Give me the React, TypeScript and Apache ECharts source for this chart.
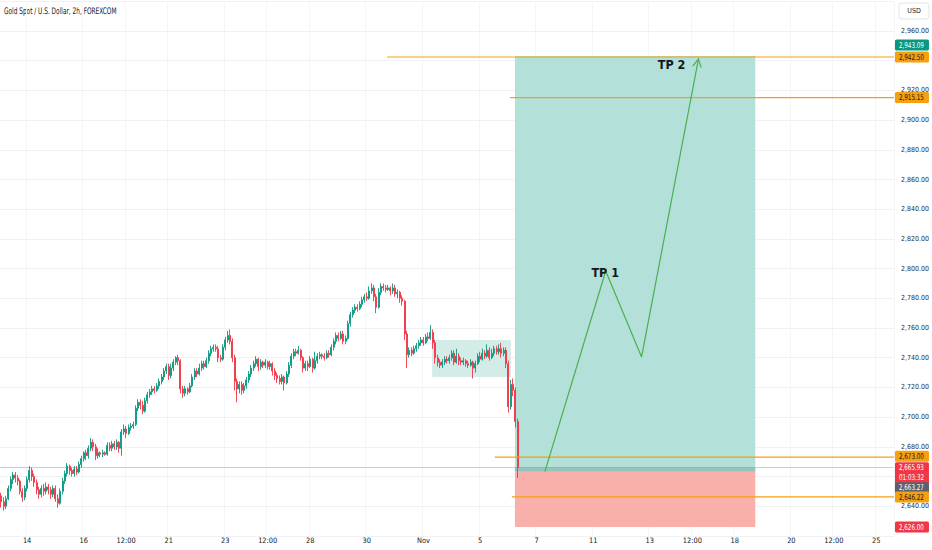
import React, { useEffect, useRef } from 'react';
import * as echarts from 'echarts';

const FONT = "'Liberation Sans Narrow', 'DejaVu Sans Condensed', 'Liberation Sans', sans-serif";

// trading days on the time scale, 2h bars (the first day starts at 02:00)
const TRADING_DAYS = [
  'Oct 11',
  'Oct 14', 'Oct 15', 'Oct 16', 'Oct 17', 'Oct 18',
  'Oct 21', 'Oct 22', 'Oct 23', 'Oct 24', 'Oct 25',
  'Oct 28', 'Oct 29', 'Oct 30', 'Oct 31', 'Nov 1',
  'Nov 4', 'Nov 5', 'Nov 6', 'Nov 7', 'Nov 8',
  'Nov 11', 'Nov 12', 'Nov 13', 'Nov 14', 'Nov 15',
  'Nov 18', 'Nov 19', 'Nov 20', 'Nov 21', 'Nov 22',
  'Nov 25', 'Nov 26',
];
const HOURS = ['00:00', '02:00', '04:00', '06:00', '08:00', '10:00', '12:00', '14:00', '16:00', '18:00', '20:00', '22:00'];
const BAR_COUNT = 379;

const TIME_LABELS: [string, string][] = [
  ['Oct 14 00:00', '14'], ['Oct 16 00:00', '16'], ['Oct 17 12:00', '12:00'], ['Oct 21 00:00', '21'],
  ['Oct 23 00:00', '23'], ['Oct 24 12:00', '12:00'], ['Oct 28 00:00', '28'], ['Oct 30 00:00', '30'],
  ['Nov 1 00:00', 'Nov'], ['Nov 5 00:00', '5'], ['Nov 7 00:00', '7'], ['Nov 11 00:00', '11'],
  ['Nov 13 00:00', '13'], ['Nov 14 12:00', '12:00'], ['Nov 18 00:00', '18'], ['Nov 20 00:00', '20'],
  ['Nov 21 12:00', '12:00'], ['Nov 25 00:00', '25'],
];

// [open, close, low, high]
const CANDLES = [
  [2647, 2643, 2639, 2649], [2643, 2640, 2637, 2646], [2640, 2645, 2638, 2647], [2645, 2652, 2644, 2654],
  [2652, 2658, 2650, 2660], [2658, 2661, 2655, 2663], [2661, 2659, 2656, 2663], [2659, 2657, 2654, 2661],
  [2657, 2650, 2648, 2658], [2650, 2646, 2643, 2652], [2646, 2652, 2644, 2654], [2652, 2658, 2650, 2660],
  [2658, 2664, 2656, 2667], [2664, 2660, 2657, 2666], [2660, 2656, 2653, 2662], [2656, 2651, 2648, 2658],
  [2651, 2648, 2645, 2653], [2648, 2652, 2646, 2654], [2652, 2650, 2647, 2655], [2650, 2653, 2648, 2656],
  [2653, 2651, 2648, 2655], [2651, 2648, 2645, 2653], [2648, 2652, 2646, 2654], [2652, 2645, 2643, 2654],
  [2645, 2642, 2639, 2648], [2642, 2650, 2641, 2652], [2650, 2657, 2648, 2659], [2657, 2662, 2655, 2664],
  [2662, 2667, 2660, 2669], [2667, 2664, 2661, 2668], [2664, 2662, 2660, 2666], [2662, 2665, 2660, 2667],
  [2665, 2663, 2661, 2667], [2663, 2668, 2662, 2670], [2668, 2672, 2666, 2674], [2672, 2676, 2670, 2677],
  [2676, 2674, 2671, 2678], [2674, 2679, 2672, 2681], [2679, 2683, 2677, 2686], [2683, 2680, 2677, 2685],
  [2680, 2674, 2671, 2682], [2674, 2676, 2672, 2679], [2676, 2675, 2673, 2677], [2675, 2676, 2673, 2678],
  [2676, 2675, 2674, 2677], [2675, 2681, 2674, 2683], [2681, 2679, 2677, 2683], [2679, 2682, 2677, 2684],
  [2682, 2680, 2678, 2684], [2680, 2683, 2678, 2685], [2683, 2679, 2676, 2684], [2679, 2690, 2674, 2692],
  [2690, 2692, 2688, 2695], [2692, 2689, 2686, 2694], [2689, 2693, 2688, 2695], [2693, 2694, 2691, 2696],
  [2694, 2695, 2692, 2697], [2695, 2706, 2694, 2708], [2706, 2710, 2704, 2712], [2710, 2708, 2705, 2712],
  [2708, 2704, 2702, 2711], [2704, 2711, 2703, 2713], [2711, 2715, 2709, 2717], [2715, 2717, 2713, 2719],
  [2717, 2719, 2715, 2721], [2719, 2718, 2716, 2721], [2718, 2721, 2717, 2723], [2721, 2724, 2719, 2726],
  [2724, 2727, 2722, 2729], [2727, 2731, 2725, 2733], [2731, 2734, 2729, 2736], [2734, 2728, 2725, 2736],
  [2728, 2733, 2726, 2736], [2733, 2737, 2731, 2739], [2737, 2740, 2735, 2741], [2740, 2738, 2735, 2742],
  [2738, 2719, 2716, 2739], [2719, 2716, 2713, 2721], [2716, 2719, 2714, 2721], [2719, 2717, 2715, 2720],
  [2717, 2721, 2716, 2723], [2721, 2727, 2720, 2729], [2727, 2731, 2725, 2733], [2731, 2729, 2727, 2733],
  [2729, 2733, 2728, 2736], [2733, 2736, 2731, 2738], [2736, 2734, 2732, 2738], [2734, 2738, 2733, 2740],
  [2738, 2743, 2736, 2745], [2743, 2746, 2741, 2748], [2746, 2747, 2744, 2749], [2747, 2746, 2744, 2749],
  [2746, 2740, 2737, 2748], [2740, 2739, 2737, 2742], [2739, 2747, 2738, 2749], [2747, 2752, 2745, 2754],
  [2752, 2755, 2750, 2758], [2755, 2751, 2749, 2759], [2751, 2740, 2737, 2753], [2740, 2724, 2718, 2742],
  [2724, 2719, 2710, 2726], [2719, 2722, 2716, 2724], [2722, 2718, 2715, 2724], [2718, 2721, 2716, 2723],
  [2721, 2725, 2719, 2727], [2725, 2729, 2723, 2731], [2729, 2733, 2727, 2735], [2733, 2736, 2731, 2738],
  [2736, 2739, 2734, 2741], [2739, 2734, 2731, 2740], [2734, 2737, 2732, 2739], [2737, 2735, 2733, 2738],
  [2735, 2737, 2733, 2739], [2737, 2734, 2732, 2738], [2734, 2736, 2732, 2738], [2736, 2731, 2728, 2737],
  [2731, 2728, 2725, 2733], [2728, 2726, 2723, 2730], [2726, 2724, 2722, 2728], [2724, 2727, 2722, 2729],
  [2727, 2723, 2718, 2728], [2723, 2729, 2722, 2731], [2729, 2735, 2727, 2737], [2735, 2741, 2733, 2743],
  [2741, 2744, 2739, 2746], [2744, 2743, 2741, 2746], [2743, 2745, 2742, 2748], [2745, 2740, 2738, 2746],
  [2740, 2733, 2730, 2741], [2733, 2736, 2731, 2738], [2736, 2734, 2731, 2738], [2734, 2739, 2733, 2741],
  [2739, 2733, 2730, 2740], [2733, 2738, 2732, 2744], [2738, 2741, 2736, 2743], [2741, 2742, 2739, 2744],
  [2742, 2741, 2739, 2743], [2741, 2740, 2738, 2743], [2740, 2743, 2739, 2745], [2743, 2742, 2740, 2745],
  [2742, 2747, 2741, 2749], [2747, 2751, 2745, 2753], [2751, 2755, 2749, 2757], [2755, 2753, 2751, 2757],
  [2753, 2756, 2752, 2758], [2756, 2751, 2749, 2758], [2751, 2753, 2749, 2755], [2753, 2763, 2752, 2765],
  [2763, 2769, 2761, 2771], [2769, 2772, 2767, 2774], [2772, 2774, 2770, 2776], [2774, 2773, 2771, 2776],
  [2773, 2776, 2772, 2778], [2776, 2779, 2774, 2781], [2779, 2781, 2777, 2783], [2781, 2780, 2778, 2784],
  [2780, 2785, 2779, 2788], [2785, 2787, 2783, 2790], [2787, 2781, 2778, 2789], [2781, 2774, 2770, 2783],
  [2774, 2784, 2773, 2787], [2784, 2788, 2782, 2790], [2788, 2787, 2785, 2790], [2787, 2786, 2784, 2789],
  [2786, 2787, 2785, 2789], [2787, 2785, 2782, 2788], [2785, 2787, 2783, 2790], [2787, 2783, 2781, 2789],
  [2783, 2784, 2780, 2786], [2784, 2780, 2777, 2785], [2780, 2778, 2775, 2782], [2778, 2756, 2752, 2779],
  [2756, 2742, 2733, 2758], [2742, 2745, 2740, 2747], [2745, 2743, 2741, 2747], [2743, 2746, 2742, 2748],
  [2746, 2748, 2744, 2750], [2748, 2750, 2746, 2752], [2750, 2752, 2748, 2754], [2752, 2750, 2748, 2754],
  [2750, 2754, 2749, 2756], [2754, 2753, 2751, 2757], [2753, 2757, 2752, 2762], [2757, 2750, 2746, 2759],
  [2750, 2740, 2736, 2752], [2740, 2737, 2734, 2742], [2737, 2735, 2733, 2739], [2735, 2737, 2733, 2739],
  [2737, 2739, 2735, 2741], [2739, 2738, 2736, 2741], [2738, 2740, 2736, 2742], [2740, 2743, 2738, 2745],
  [2743, 2737, 2735, 2745], [2737, 2741, 2736, 2746], [2741, 2738, 2735, 2743], [2738, 2737, 2735, 2740],
  [2737, 2738, 2735, 2740], [2738, 2736, 2734, 2739], [2736, 2735, 2733, 2738], [2735, 2737, 2734, 2739],
  [2737, 2733, 2726, 2738], [2733, 2736, 2730, 2738], [2736, 2741, 2735, 2743], [2741, 2739, 2737, 2744],
  [2739, 2743, 2738, 2746], [2743, 2741, 2739, 2745], [2741, 2745, 2740, 2749], [2745, 2740, 2738, 2747],
  [2740, 2743, 2739, 2746], [2743, 2746, 2741, 2748], [2746, 2744, 2742, 2748], [2744, 2746, 2742, 2749],
  [2746, 2743, 2740, 2750], [2743, 2745, 2741, 2747], [2745, 2736, 2733, 2747], [2736, 2707, 2703, 2738],
  [2707, 2722, 2705, 2725], [2722, 2718, 2714, 2726], [2718, 2697, 2693, 2720], [2697, 2665.93, 2659, 2699],
];

const LAST_PRICE = 2665.93;
const COUNTDOWN = '01:03:32';

// horizontal levels drawn from a bar to the right edge
const LEVELS = [
  { fromBar: 163.6, price: 2942.5 },
  { fromBar: 215.7, price: 2915.15 },
  { fromBar: 209.3, price: 2673.0 },
  { fromBar: 216.5, price: 2646.22 },
];

const POSITION = { fromBar: 217.8, toBar: 319.7, entry: 2663.27, target: 2943.09, stop: 2626.0 };
const RANGE_BOX = { fromBar: 182.7, toBar: 216.1, low: 2727, high: 2751.9 };

// projected path [bar, price]
const ARROW_PATH = [[230.5, 2663.3], [256.3, 2798.4], [271.5, 2740.5], [295.6, 2941.1]];
const NOTES = [
  { bar: 256.1, price: 2797.7, text: 'TP 1' },
  { bar: 284.2, price: 2937.4, text: 'TP 2' },
];

// price scale tags, top to bottom
const TAG_VALUES = [2943.09, 2942.5, 2915.15, 2673.0, 2665.93, 2663.27, 2646.22, 2626.0];
// tick labels hidden on the price scale (edges, or under a tag)
const HIDDEN_TICKS = [2620, 2660, 2940, 2980];

const INK = '#131722';
const UP = '#089981';
const DOWN = '#f23645';
const ORANGE = '#f5a00f';
const ARROW_GREEN = '#4caf50';

const fmtPrice = (v: number) =>
  v.toLocaleString('en-US', { minimumFractionDigits: 2, maximumFractionDigits: 2 });

const App: React.FC = () => {
  const chartRef = useRef<HTMLDivElement>(null);

  useEffect(() => {
    document.body.style.margin = '0';
    if (!chartRef.current) return;
    const chart = echarts.init(chartRef.current, undefined, { renderer: 'svg' });

    const categories: string[] = [];
    TRADING_DAYS.forEach((d, k) =>
      HOURS.forEach((h, j) => {
        if (k === 0 && j === 0) return;
        categories.push(d + ' ' + h);
      })
    );
    const cats = categories.slice(0, BAR_COUNT);
    const labelMap = new Map<number, string>();
    TIME_LABELS.forEach(([t, s]) => labelMap.set(cats.indexOf(t), s));

    const zoneRows = [
      [POSITION.fromBar, POSITION.toBar, POSITION.entry, POSITION.target],
      [POSITION.fromBar, POSITION.toBar, POSITION.entry, LAST_PRICE],
      [POSITION.fromBar, POSITION.toBar, POSITION.stop, POSITION.entry],
      [RANGE_BOX.fromBar, RANGE_BOX.toBar, RANGE_BOX.low, RANGE_BOX.high],
    ];
    const zoneColors = ['#b3e0d9', '#97c3bf', '#f9b0ab', '#d4ece8'];

    const tagLook = [
      { bg: UP, fg: '#ffffff', dy: -11 },
      { bg: ORANGE, fg: INK, dy: 0 },
      { bg: ORANGE, fg: INK, dy: 0 },
      { bg: ORANGE, fg: INK, dy: -1 },
      { bg: DOWN, fg: '#ffffff', dy: 0, two: true },
      { bg: '#5d606b', fg: '#ffffff', dy: 16 },
      { bg: ORANGE, fg: INK, dy: 0 },
      { bg: DOWN, fg: '#ffffff', dy: 0 },
    ];

    const n = ARROW_PATH.length;
    const narrow = (text: string, fill: string, x: number, y: number, size: number) => ({
      type: 'text',
      x,
      y,
      scaleX: 0.78,
      style: { text, fill, fontSize: size, fontFamily: FONT, verticalAlign: 'middle' },
    });

    const option = {
      animation: false,
      backgroundColor: '#ffffff',
      graphic: [
        {
          type: 'text',
          x: 4,
          y: 11,
          scaleX: 0.72,
          style: {
            text: 'Gold Spot / U.S. Dollar, 2h, FOREXCOM',
            fill: INK,
            fontSize: 9,
            fontFamily: FONT,
            verticalAlign: 'middle',
          },
        },
        {
          type: 'rect',
          shape: { x: 899, y: 3, width: 30, height: 16, r: 3 },
          style: { fill: '#ffffff', stroke: '#e0e3eb', lineWidth: 1 },
        },
        {
          type: 'text',
          x: 914,
          y: 11,
          style: { text: 'USD', fill: INK, fontSize: 7, fontFamily: FONT, align: 'center', verticalAlign: 'middle' },
        },
      ],
      grid: { left: 0, right: 36, top: 1.3, bottom: 14.1 },
      xAxis: [
        {
          type: 'category',
          data: cats,
          axisLine: { show: false },
          axisTick: { show: false },
          axisLabel: {
            interval: (i: number) => labelMap.has(i),
            formatter: (_v: string, i: number) => labelMap.get(i) ?? '',
            color: INK,
            fontSize: 7.4,
            fontFamily: FONT,
            margin: 1,
          },
          splitLine: {
            show: true,
            interval: (i: number) => labelMap.has(i),
            lineStyle: { color: '#f4f5f8', width: 1 },
          },
        },
        { type: 'value', min: -0.5, max: BAR_COUNT - 0.5, show: false },
      ],
      yAxis: {
        type: 'value',
        position: 'right',
        min: 2620,
        max: 2980,
        interval: 20,
        axisLine: { show: false },
        axisTick: { show: false },
        axisLabel: {
          formatter: (v: number) => (HIDDEN_TICKS.includes(v) ? '' : fmtPrice(v)),
          color: '#2a2e39',
          fontSize: 7,
          fontFamily: FONT,
          margin: 7,
        },
        splitLine: { lineStyle: { color: '#eff1f5', width: 1 } },
      },
      series: [
        {
          type: 'custom',
          name: 'zones',
          xAxisIndex: 1,
          silent: true,
          z: 1,
          data: zoneRows,
          renderItem: (params: any, api: any) => {
            const a = api.coord([api.value(0), api.value(3)]);
            const b = api.coord([api.value(1), api.value(2)]);
            return {
              type: 'rect',
              shape: { x: a[0], y: a[1], width: b[0] - a[0], height: b[1] - a[1] },
              style: { fill: zoneColors[params.dataIndex] },
            };
          },
        },
        {
          type: 'candlestick',
          name: 'XAUUSD',
          data: CANDLES,
          barWidth: 1.5,
          z: 3,
          itemStyle: {
            color: UP,
            color0: DOWN,
            borderColor: UP,
            borderColor0: DOWN,
            borderWidth: 0.9,
          },
          markLine: {
            silent: true,
            symbol: 'none',
            label: { show: false },
            lineStyle: { color: 'rgba(242,54,69,0.35)', type: 'solid', width: 1 },
            data: [{ yAxis: LAST_PRICE }],
          },
        },
        {
          type: 'custom',
          name: 'levels',
          xAxisIndex: 1,
          silent: true,
          z: 5,
          data: LEVELS.map((l) => [l.fromBar, l.price]),
          renderItem: (params: any, api: any) => {
            const p = api.coord([api.value(0), api.value(1)]);
            const right = params.coordSys.x + params.coordSys.width;
            return {
              type: 'line',
              shape: { x1: p[0], y1: p[1], x2: right, y2: p[1] },
              style: { stroke: ORANGE, lineWidth: 1.2 },
            };
          },
        },
        {
          type: 'line',
          name: 'path',
          xAxisIndex: 1,
          data: ARROW_PATH,
          symbol: 'none',
          silent: true,
          z: 6,
          lineStyle: { color: ARROW_GREEN, width: 1.2 },
        },
        {
          type: 'custom',
          name: 'arrowhead',
          xAxisIndex: 1,
          silent: true,
          z: 6,
          data: [[...ARROW_PATH[n - 1], ...ARROW_PATH[n - 2]]],
          renderItem: (_params: any, api: any) => {
            const tip = api.coord([api.value(0), api.value(1)]);
            const prev = api.coord([api.value(2), api.value(3)]);
            const ang = Math.atan2(tip[1] - prev[1], tip[0] - prev[0]);
            const wing = (s: number) => {
              const a = ang + Math.PI + s * 0.5;
              return [tip[0] + 9 * Math.cos(a), tip[1] + 9 * Math.sin(a)];
            };
            return {
              type: 'polyline',
              shape: { points: [wing(-1), tip, wing(1)] },
              style: { stroke: ARROW_GREEN, lineWidth: 1.2, fill: 'none' },
            };
          },
        },
        {
          type: 'custom',
          name: 'notes',
          xAxisIndex: 1,
          silent: true,
          z: 7,
          data: NOTES.map((t) => [t.bar, t.price]),
          renderItem: (params: any, api: any) => {
            const p = api.coord([api.value(0), api.value(1)]);
            return {
              type: 'text',
              x: p[0],
              y: p[1],
              style: {
                text: NOTES[params.dataIndex].text,
                fill: INK,
                fontSize: 12.5,
                fontWeight: 'bold',
                fontFamily: FONT,
                align: 'center',
                verticalAlign: 'middle',
              },
            };
          },
        },
        {
          type: 'custom',
          name: 'tags',
          xAxisIndex: 1,
          silent: true,
          clip: false,
          z: 8,
          data: TAG_VALUES.map((v) => [0, v]),
          renderItem: (params: any, api: any) => {
            const i = params.dataIndex;
            const look = tagLook[i];
            const value = api.value(1);
            const x = params.coordSys.x + params.coordSys.width + 1;
            const y = api.coord([0, value])[1] + look.dy;
            const h = look.two ? 22 : 11;
            const children: any[] = [
              {
                type: 'rect',
                shape: { x, y: y - 5.5, width: 34, height: h, r: 1.5 },
                style: { fill: look.bg },
              },
              narrow(fmtPrice(value), look.fg, x + 4, y, 8),
            ];
            if (look.two) children.push(narrow(COUNTDOWN, look.fg, x + 4, y + 10, 8));
            return { type: 'group', children };
          },
        },
      ],
    };

    chart.setOption(option as any);

    return () => {
      chart.dispose();
    };
  }, []);

  return <div ref={chartRef} style={{ width: 932, height: 550 }} />;
};

export default App;
